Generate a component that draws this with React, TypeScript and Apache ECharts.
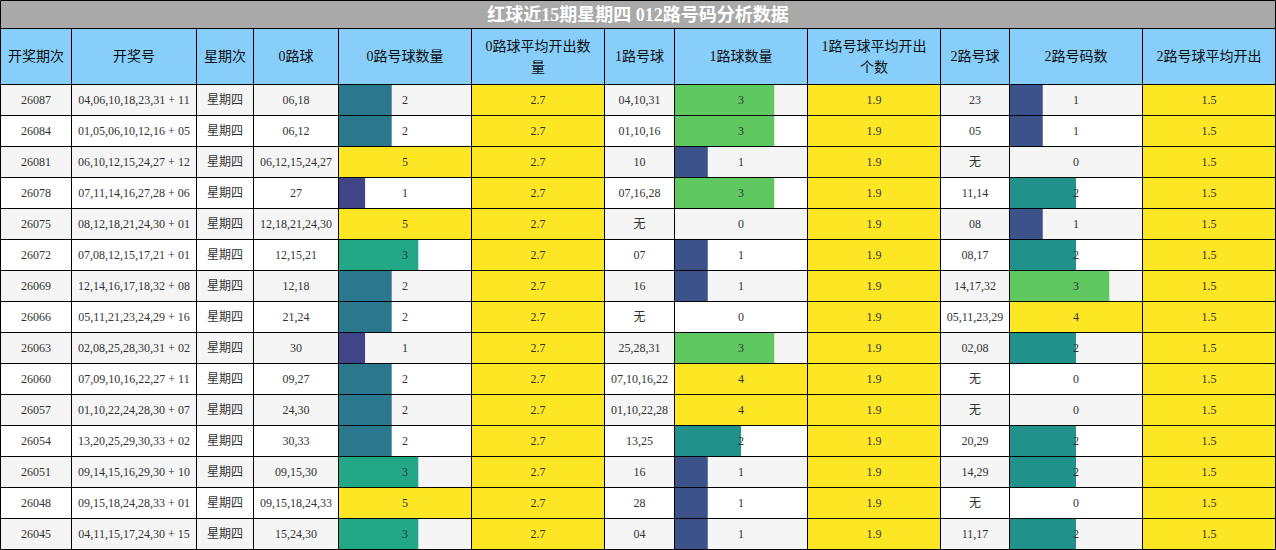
import * as echarts from "echarts";
import { useEffect, useRef } from "react";

const titleText = "红球近15期星期四 012路号码分析数据";

const headers = [
  "开奖期次",
  "开奖号",
  "星期次",
  "0路球",
  "0路号球数量",
  "0路球平均开出数\n量",
  "1路号球",
  "1路球数量",
  "1路号球平均开出\n个数",
  "2路号球",
  "2路号码数",
  "2路号球平均开出",
];

const issues = ["26087", "26084", "26081", "26078", "26075", "26072", "26069", "26066", "26063", "26060", "26057", "26054", "26051", "26048", "26045"];

const drawNumbers = [
  "04,06,10,18,23,31 + 11",
  "01,05,06,10,12,16 + 05",
  "06,10,12,15,24,27 + 12",
  "07,11,14,16,27,28 + 06",
  "08,12,18,21,24,30 + 01",
  "07,08,12,15,17,21 + 01",
  "12,14,16,17,18,32 + 08",
  "05,11,21,23,24,29 + 16",
  "02,08,25,28,30,31 + 02",
  "07,09,10,16,22,27 + 11",
  "01,10,22,24,28,30 + 07",
  "13,20,25,29,30,33 + 02",
  "09,14,15,16,29,30 + 10",
  "09,15,18,24,28,33 + 01",
  "04,11,15,17,24,30 + 15",
];

const weekdays = ["星期四", "星期四", "星期四", "星期四", "星期四", "星期四", "星期四", "星期四", "星期四", "星期四", "星期四", "星期四", "星期四", "星期四", "星期四"];

const zeroBalls = ["06,18", "06,12", "06,12,15,24,27", "27", "12,18,21,24,30", "12,15,21", "12,18", "21,24", "30", "09,27", "24,30", "30,33", "09,15,30", "09,15,18,24,33", "15,24,30"];
const zeroCounts = [2, 2, 5, 1, 5, 3, 2, 2, 1, 2, 2, 2, 3, 5, 3];
const zeroAverage = 2.7;

const oneBalls = ["04,10,31", "01,10,16", "10", "07,16,28", "无", "07", "16", "无", "25,28,31", "07,10,16,22", "01,10,22,28", "13,25", "16", "28", "04"];
const oneCounts = [3, 3, 1, 3, 0, 1, 1, 0, 3, 4, 4, 2, 1, 1, 1];
const oneAverage = 1.9;

const twoBalls = ["23", "05", "无", "11,14", "08", "08,17", "14,17,32", "05,11,23,29", "02,08", "无", "无", "20,29", "14,29", "无", "11,17"];
const twoCounts = [1, 1, 0, 2, 1, 2, 3, 4, 2, 0, 0, 2, 2, 0, 2];
const twoAverage = 1.5;

// layout
const columnEdges = [0.5, 71.5, 196.5, 253.5, 338.5, 471.5, 604.5, 674.5, 807.5, 940.5, 1009.5, 1142.5, 1275.5];
const titleBottom = 28.5;
const headerBottom = 84.5;
const rowHeight = 31;

const viridis = ["#440154", "#482475", "#414487", "#355f8d", "#2a788e", "#21918c", "#22a884", "#44bf70", "#7ad151", "#bddf26", "#fde725"];
const fontFamily = "'Liberation Serif', 'Noto Sans CJK SC', serif";
const textColor = "#333333";
const borderColor = "#000000";

type Cell = {
  x0: number;
  x1: number;
  y0: number;
  y1: number;
  text: string;
  fill: string;
  fontSize: number;
  fontWeight?: string;
  color: string;
  lineHeight?: number;
  bar?: { frac: number; color: string };
};

function buildCells(): Cell[] {
  const cells: Cell[] = [];
  const left = columnEdges[0];
  const right = columnEdges[columnEdges.length - 1];
  cells.push({ x0: left, x1: right, y0: 0.5, y1: titleBottom, text: titleText, fill: "#a9a9a9", fontSize: 18, fontWeight: "bold", color: "#ffffff" });
  headers.forEach((h, c) => {
    cells.push({ x0: columnEdges[c], x1: columnEdges[c + 1], y0: titleBottom, y1: headerBottom, text: h, fill: "#87cefa", fontSize: 14, color: "#111111", lineHeight: 21 });
  });
  const countColumns = [zeroCounts, oneCounts, twoCounts];
  const averages = [zeroAverage, oneAverage, twoAverage];
  issues.forEach((issue, r) => {
    const y0 = headerBottom + r * rowHeight;
    const y1 = y0 + rowHeight;
    const rowFill = r % 2 === 0 ? "#f5f5f5" : "#ffffff";
    const textCols = [issue, drawNumbers[r], weekdays[r]];
    const balls = [zeroBalls, oneBalls, twoBalls];
    const rowTexts: (string | { count: number; max: number } | { avg: number })[] = [
      ...textCols,
      balls[0][r],
      { count: countColumns[0][r], max: Math.max(...countColumns[0]) },
      { avg: averages[0] },
      balls[1][r],
      { count: countColumns[1][r], max: Math.max(...countColumns[1]) },
      { avg: averages[1] },
      balls[2][r],
      { count: countColumns[2][r], max: Math.max(...countColumns[2]) },
      { avg: averages[2] },
    ];
    rowTexts.forEach((item, c) => {
      const base = { x0: columnEdges[c], x1: columnEdges[c + 1], y0, y1, fontSize: 12, color: textColor };
      if (typeof item === "string") {
        cells.push({ ...base, text: item, fill: rowFill });
      } else if ("count" in item) {
        const frac = item.count / item.max;
        cells.push({ ...base, text: String(item.count), fill: rowFill, bar: { frac, color: echarts.color.lerp(frac, viridis) } });
      } else {
        cells.push({ ...base, text: item.avg.toFixed(1), fill: viridis[viridis.length - 1] });
      }
    });
  });
  return cells;
}

export default function App() {
  const ref = useRef<HTMLDivElement | null>(null);

  useEffect(() => {
    document.body.style.margin = "0";
    if (!ref.current) return;
    const chart = echarts.init(ref.current, undefined, { renderer: "svg" });
    const cells = buildCells();
    chart.setOption({
      animation: false,
      grid: { left: 0, right: 0, top: 0, bottom: 0 },
      xAxis: { type: "value", min: 0, max: 1276, show: false },
      yAxis: { type: "value", min: 0, max: 550, inverse: true, show: false },
      series: [
        {
          type: "custom",
          coordinateSystem: "cartesian2d",
          clip: false,
          data: cells.map((c) => [c.x0, c.y0, c.x1, c.y1]),
          renderItem: (params: any, api: any) => {
            const cell = cells[params.dataIndex];
            const [px0, py0] = api.coord([api.value(0), api.value(1)]);
            const [px1, py1] = api.coord([api.value(2), api.value(3)]);
            const shape = { x: px0, y: py0, width: px1 - px0, height: py1 - py0 };
            const children: any[] = [{ type: "rect", shape, style: { fill: cell.fill } }];
            if (cell.bar && cell.bar.frac > 0) {
              const [bx] = api.coord([cell.x0 + (cell.x1 - cell.x0) * cell.bar.frac, cell.y0]);
              children.push({ type: "rect", shape: { x: px0, y: py0, width: bx - px0, height: py1 - py0 }, style: { fill: cell.bar.color } });
            }
            children.push({
              type: "text",
              style: {
                text: cell.text,
                x: (px0 + px1) / 2,
                y: (py0 + py1) / 2,
                align: "center",
                verticalAlign: "middle",
                fontSize: cell.fontSize,
                fontWeight: cell.fontWeight || "normal",
                fontFamily,
                lineHeight: cell.lineHeight,
                fill: cell.color,
              },
            });
            children.push({ type: "rect", shape, style: { fill: "none", stroke: borderColor, lineWidth: 1 } });
            return { type: "group", children };
          },
        },
      ],
    });
    const resize = () => chart.resize();
    window.addEventListener("resize", resize);
    return () => {
      window.removeEventListener("resize", resize);
      chart.dispose();
    };
  }, []);

  return <div ref={ref} style={{ width: 1276, height: 550 }} />;
}
